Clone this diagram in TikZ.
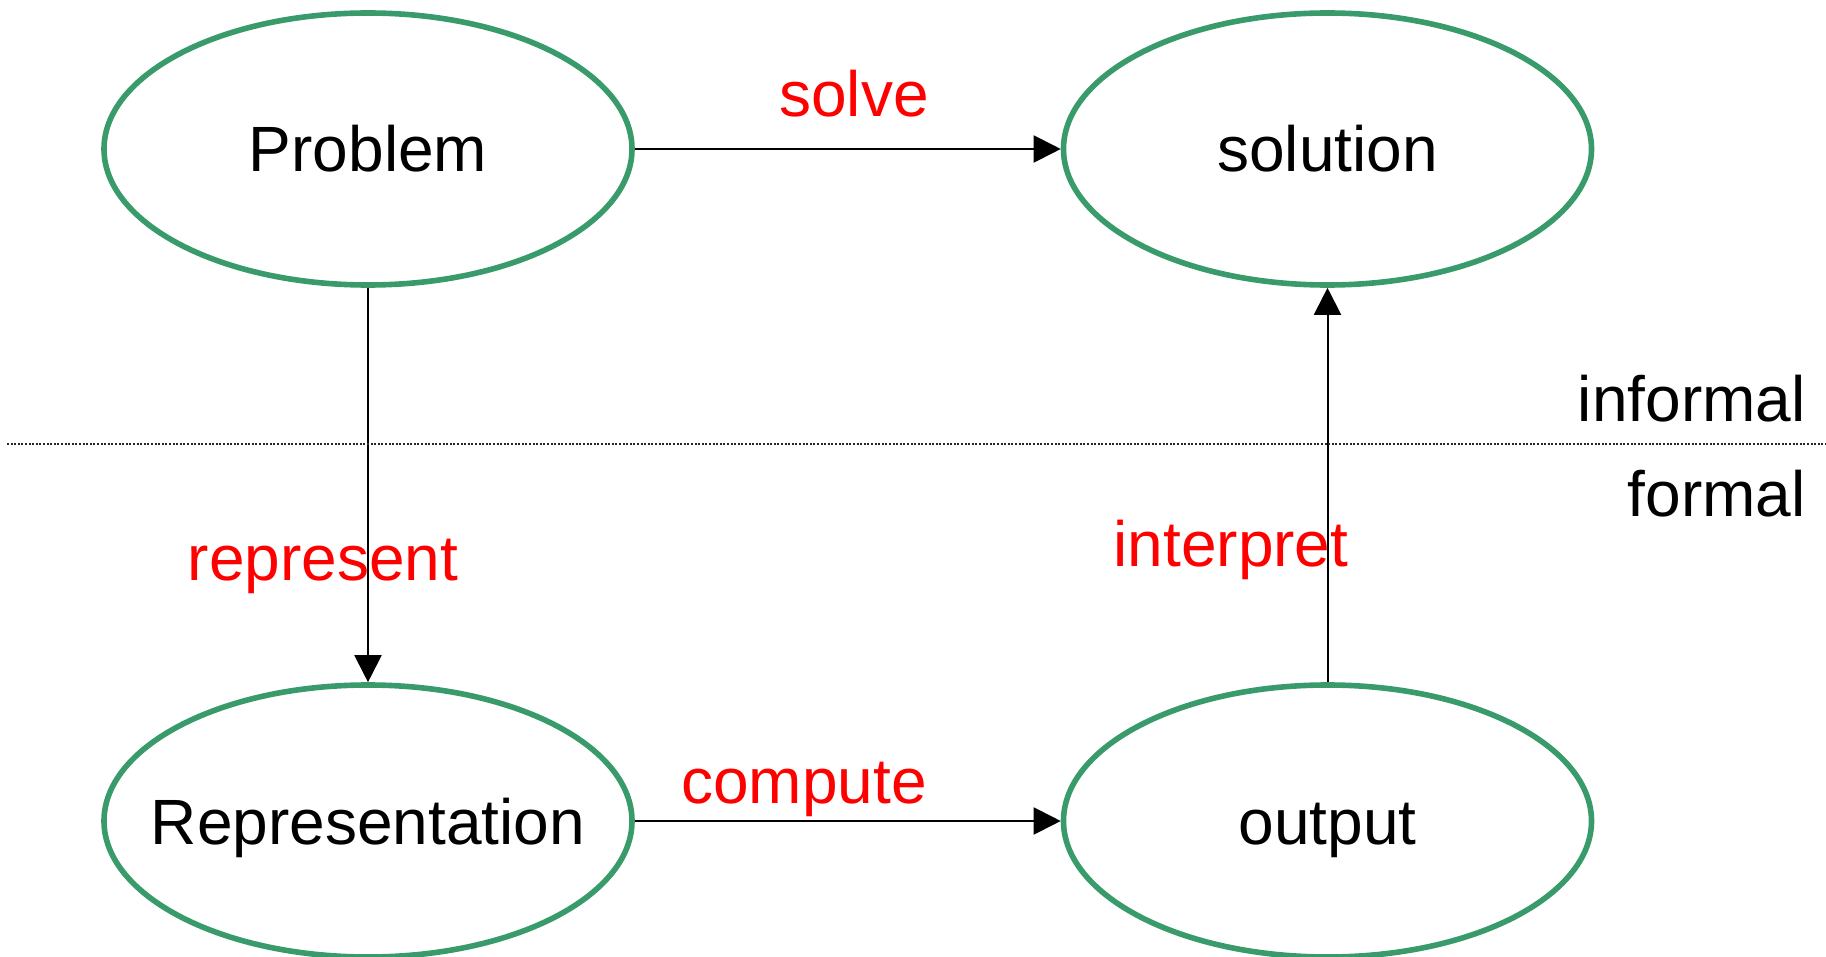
\documentclass[tikz,border=0pt]{standalone}
\usepackage{fontspec}
\setmainfont{Liberation Sans}
\usetikzlibrary{shapes.geometric,arrows.meta}
\definecolor{ringgreen}{RGB}{57,155,107}
\begin{document}
\begin{tikzpicture}[x=0.5pt,y=-0.5pt,
  stage/.style={ellipse, draw=ringgreen, line width=2.8pt,
    minimum width=264pt, minimum height=136pt, inner sep=0pt,
    font=\fontsize{32}{38}\selectfont, text height=23pt, text depth=0pt},
  flow/.style={-{Triangle[length=13.5pt,width=13.5pt]}, line width=1pt},
  verb/.style={text=red, font=\fontsize{32}{38}\selectfont, anchor=base, inner sep=0pt},
  side/.style={font=\fontsize{32}{38}\selectfont, anchor=base east, inner sep=0pt},
  divider/.style={dash pattern=on 1pt off 0.8pt, line width=0.9pt, black!85}]
\useasboundingbox (0,0) rectangle (1826,957);

% the four stages (labels in zero-width boxes so every ellipse keeps the same size)
\node[stage] (prob) at (368,149) {\makebox[0pt]{Problem}};
\node[stage] (sol) at (1327.5,149) {\makebox[0pt]{solution}};
\node[stage] (rep) at (368,821) {\makebox[0pt]{Representation}};
\node[stage] (out) at (1327.5,821) {\makebox[0pt]{output}};

% connectors between stages
\draw[flow] (prob) -- (sol);
\draw[flow] (prob) -- (rep);
\draw[flow] (rep) -- (out);
\draw[flow] (out) -- (sol);

% labels of the steps
\node[verb] (solve) at (854,116.5) {solve};
\node[verb] (represent) at (323,580) {represent};
\node[verb] (interpret) at (1231,566) {interpret};
\node[verb] (compute) at (804,803.5) {compute};

% boundary between informal and formal
\coordinate (lineL) at (7,444);
\coordinate (lineR) at (1826,444);
\draw[divider] (lineL) -- (lineR);
\node[side] (informal) at (1806,421.5) {informal};
\node[side] (formal) at (1806,516) {formal};
\end{tikzpicture}
\end{document}
